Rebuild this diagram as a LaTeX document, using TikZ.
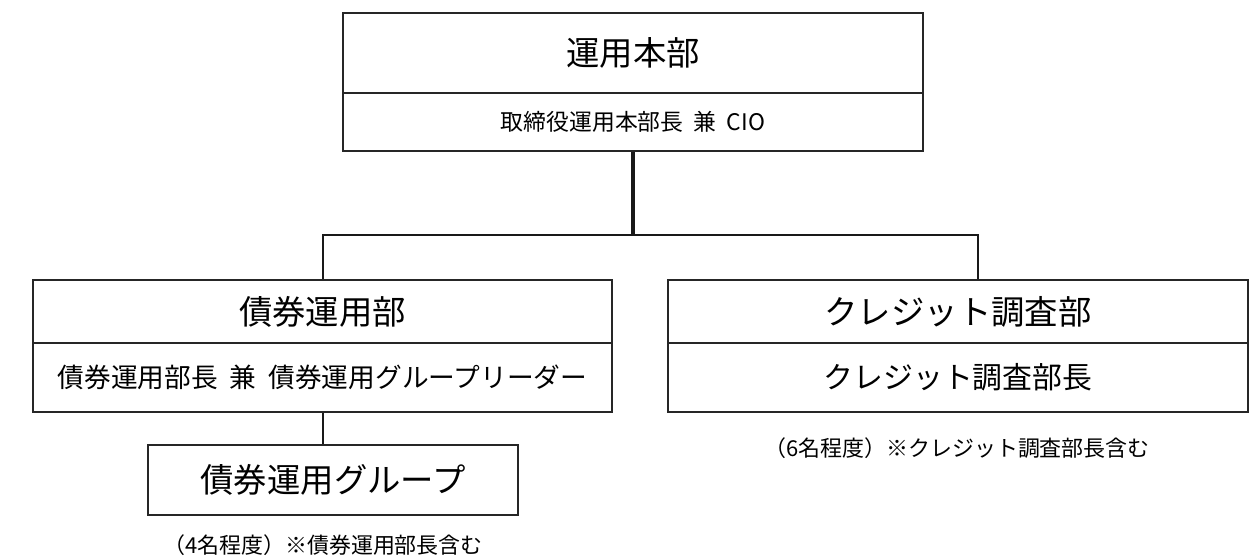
\documentclass[tikz,border=0pt]{standalone}
\usepackage{fontspec}
\setmainfont{Noto Sans CJK JP}
\usetikzlibrary{positioning}

\begin{document}
\begin{tikzpicture}[x=0.02cm,y=-0.02cm,font=\normalfont,
  unit/.style={draw=black!85,line width=0.9pt,inner sep=0pt,align=center},
  titlefont/.style={font=\fontsize{19}{23}\selectfont},
  link/.style={draw=black!90,line width=1pt},
  trunk/.style={draw=black!90,line width=1.8pt}]
\useasboundingbox (0,0) rectangle (1255,558);

% head office
\node[unit,titlefont,minimum width=11.6cm,minimum height=1.6cm] (honbu) at (633,53) {運用本部};
\node[unit,font=\fontsize{13}{16}\selectfont,minimum width=11.6cm,minimum height=1.16cm] (honbuchief) at (633,122) {取締役運用本部長\ \ 兼\ \ CIO};

% bond department
\node[unit,titlefont,minimum width=11.58cm,minimum height=1.26cm] (saiken) at (322.5,311.5) {債券運用部};
\node[unit,font=\fontsize{15.2}{18}\selectfont,minimum width=11.58cm,minimum height=1.38cm] (saikenchief) at (322.5,377.5) {債券運用部長\ \ 兼\ \ 債券運用グループリーダー};
\node[unit,titlefont,minimum width=7.4cm,minimum height=1.4cm] (saikengroup) at (333,480) {債券運用グループ};
\node[font=\fontsize{12.5}{15}\selectfont] (saikennote) at (323,545) {（4名程度）※債券運用部長含む};

% credit research department
\node[unit,titlefont,minimum width=11.6cm,minimum height=1.26cm] (credit) at (958,311.5) {クレジット調査部};
\node[unit,font=\fontsize{17}{20}\selectfont,minimum width=11.6cm,minimum height=1.38cm] (creditchief) at (958,377.5) {クレジット調査部長};
\node[font=\fontsize{12.5}{15}\selectfont] (creditnote) at (957,448) {（6名程度）※クレジット調査部長含む};

% connectors
\coordinate (busL) at (323,235);
\coordinate (busR) at (978,235);
\draw[trunk] (honbuchief.south) -- (honbuchief.south |- busL);
\draw[link] (busL |- saiken.north) -- (busL) -- (busR) -- (busR |- credit.north);
\draw[link] (busL |- saikenchief.south) -- (busL |- saikengroup.north);
\end{tikzpicture}
\end{document}
